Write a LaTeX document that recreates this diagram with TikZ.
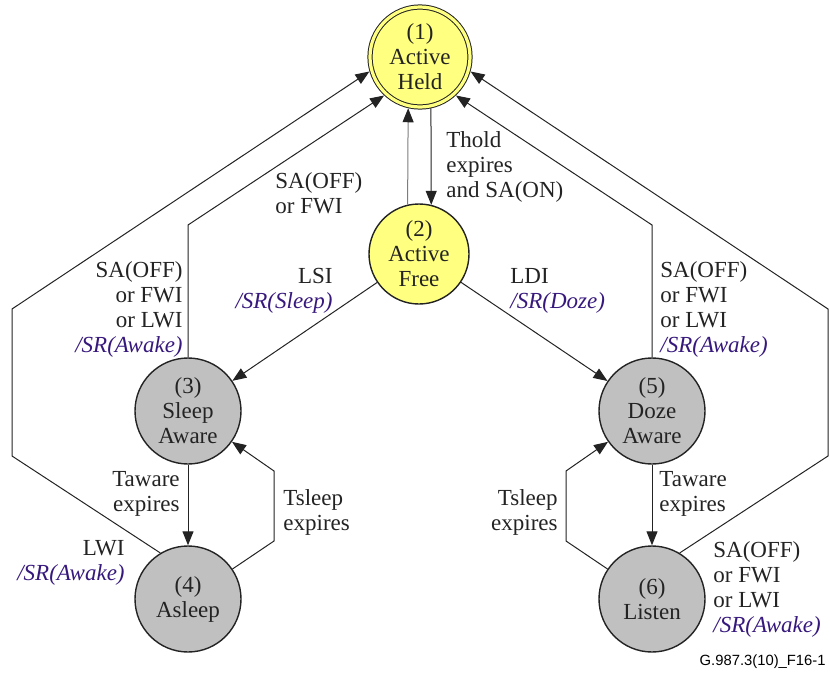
\documentclass[tikz,border=0pt]{standalone}
\usepackage{fontspec}
\setmainfont{Liberation Serif}
\newfontfamily\figfont{Liberation Sans}
\usetikzlibrary{arrows.meta}

\definecolor{heldyellow}{RGB}{255,255,128}
\definecolor{stategray}{RGB}{192,192,192}
\definecolor{srpurple}{RGB}{55,25,125}
\definecolor{inkgray}{RGB}{35,35,35}
\definecolor{backgray}{RGB}{125,125,125}

\newcommand{\srmsg}[1]{\textcolor{srpurple}{\textit{/SR(#1)}}}

\begin{document}
\begin{tikzpicture}[x=0.5pt, y=-0.5pt,
	>={Triangle[length=7pt, width=5.5pt]},
	every node/.style={font=\rmfamily\fontsize{11.5}{12.5}\selectfont, text=inkgray, inner sep=0pt},
	state/.style={circle, draw=inkgray, line width=0.7pt, align=center, minimum size=53pt},
	activestate/.style={state, fill=heldyellow},
	powerstate/.style={state, fill=stategray},
	trans/.style={->, draw=inkgray, line width=0.5pt},
	lblleft/.style={anchor=north west, align=left},
	lblright/.style={anchor=north east, align=right}]
	\useasboundingbox (0,0) rectangle (830,675);

	% states
	\node[activestate, line width=0.5pt, minimum size=50pt, double=heldyellow, double distance=1.6pt, outer sep=1.3pt] (held) at (420,57) {(1)\\Active\\Held};
	\node[activestate, minimum size=50pt] (free) at (419,254) {(2)\\Active\\Free};
	\node[powerstate] (sleepaw) at (188,411) {(3)\\Sleep\\Aware};
	\node[powerstate] (asleep) at (188,599) {(4)\\Asleep};
	\node[powerstate] (dozeaw) at (652,411) {(5)\\Doze\\Aware};
	\node[powerstate] (listen) at (652,599) {(6)\\Listen};

	% bends of the long connectors
	\coordinate (sleepup) at (188,225);
	\coordinate (dozeup) at (652,225);
	\coordinate (leftlow) at (12,456);
	\coordinate (lefthigh) at (12,309);
	\coordinate (rightlow) at (828,456);
	\coordinate (righthigh) at (828,309);
	\coordinate (tsleepla) at (274,541);
	\coordinate (tsleeplb) at (274,471);
	\coordinate (tsleepra) at (566,541);
	\coordinate (tsleeprb) at (566,471);

	% transitions
	\draw[trans] (held.-78) -- (free.76);
	\draw[->, draw=backgray, line width=0.5pt, >={Triangle[length=7pt, width=5.5pt, color=inkgray]}] (free.103) -- (held.-103);
	\draw[trans] (free) -- (sleepaw);
	\draw[trans] (free) -- (dozeaw);
	\draw[trans] (sleepaw) -- (asleep);
	\draw[trans] (dozeaw) -- (listen);
	\draw[trans] (sleepaw.north) -- (sleepup) -- (held.227);
	\draw[trans] (dozeaw.north) -- (dozeup) -- (held.-47);
	\draw[trans] (asleep.121) -- (leftlow) -- (lefthigh) -- (held.196);
	\draw[trans] (listen.59) -- (rightlow) -- (righthigh) -- (held.-16);
	\draw[trans] (asleep.34) -- (tsleepla) -- (tsleeplb) -- (sleepaw.-35);
	\draw[trans] (listen.146) -- (tsleepra) -- (tsleeprb) -- (dozeaw.-145);

	% labels
	\node[lblleft] (tholdlbl) at (446,131) {Thold\\expires\\and SA(ON)};
	\node[lblleft] (heldofflbl) at (275,172) {SA(OFF)\\or FWI};
	\node[lblright] (sleepofflbl) at (183,261) {SA(OFF)\\or FWI\\or LWI\\\srmsg{Awake}};
	\node[lblright] (lsilbl) at (333,268) {LSI\\\srmsg{Sleep}};
	\node[lblleft] (ldilbl) at (510,268) {LDI\\\srmsg{Doze}};
	\node[lblleft] (dozeofflbl) at (660,261) {SA(OFF)\\or FWI\\or LWI\\\srmsg{Awake}};
	\node[lblright] (tawarel) at (180,471) {Taware\\expires};
	\node[lblleft] (tsleepl) at (283,489) {Tsleep\\expires};
	\node[lblright] (lwilbl) at (125,540) {LWI\\\srmsg{Awake}};
	\node[lblleft] (tawarer) at (659,471) {Taware\\expires};
	\node[lblright] (tsleepr) at (558,489) {Tsleep\\expires};
	\node[lblleft] (listenofflbl) at (713,541) {SA(OFF)\\or FWI\\or LWI\\\srmsg{Awake}};

	\node[font=\figfont\fontsize{7.4}{9}\selectfont, text=black, anchor=base east] (figid) at (826,665) {G.987.3(10)\_F16-1};
\end{tikzpicture}
\end{document}
